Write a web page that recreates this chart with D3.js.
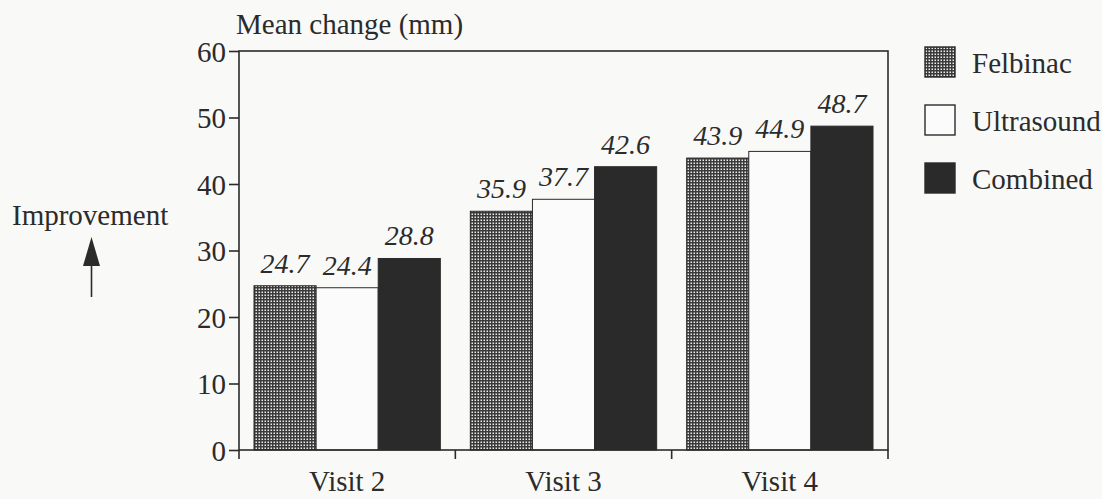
<!DOCTYPE html>
<html>
<head>
<meta charset="utf-8">
<script src="https://cdn.jsdelivr.net/npm/d3@7"></script>
<style>
  body { margin: 0; background: #f9f9f7; }
  svg { display: block; font-family: "Liberation Serif", "DejaVu Serif", serif; }
</style>
</head>
<body>
<svg id="chart"></svg>
<script>
// chart data
const visits = ["Visit 2", "Visit 3", "Visit 4"];
const treatments = ["Felbinac", "Ultrasound", "Combined"];
const felbinac = [24.7, 35.9, 43.9];
const ultrasound = [24.4, 37.7, 44.9];
const combined = [28.8, 42.6, 48.7];
const yTicks = [0, 10, 20, 30, 40, 50, 60];

const seriesValues = [felbinac, ultrasound, combined];

const width = 1102, height = 499;
const m = { left: 239, right: 214, top: 51, bottom: 49 };
const ink = "#2b2b2b";
const fontSize = 29;

const svg = d3.select("#chart")
    .attr("width", width)
    .attr("height", height);

// checker pattern for Felbinac
const defs = svg.append("defs");
const pat = defs.append("pattern")
    .attr("id", "checker")
    .attr("patternUnits", "userSpaceOnUse")
    .attr("width", 3)
    .attr("height", 3);
pat.append("rect").attr("width", 3).attr("height", 3).attr("fill", "#3a3a3a");
pat.append("rect").attr("x", 0.5).attr("y", 0.5).attr("width", 1.5).attr("height", 1.5).attr("fill", "#ececec");

const fills = { "Felbinac": "url(#checker)", "Ultrasound": "#fbfbfb", "Combined": "#2a2a2a" };

// scales
let x0 = d3.scaleBand()
    .domain(visits)
    .range([m.left, width - m.right]);

let x1 = d3.scaleBand()
    .domain(treatments)
    .range([15, x0.bandwidth() - 15]);

let y = d3.scaleLinear()
    .domain([0, 60])
    .range([height - m.bottom, m.top]);

// bars
const rows = [];
visits.forEach((v, i) => {
    treatments.forEach((t, j) => {
        rows.push({ visit: v, treatment: t, value: seriesValues[j][i] });
    });
});

svg.append("g")
    .selectAll("rect")
    .data(rows)
    .enter()
    .append("rect")
    .attr("x", d => x0(d.visit) + x1(d.treatment))
    .attr("y", d => y(d.value))
    .attr("width", x1.bandwidth())
    .attr("height", d => y(0) - y(d.value))
    .attr("fill", d => fills[d.treatment])
    .attr("stroke", ink)
    .attr("stroke-width", 1);

// value labels
svg.append("g")
    .selectAll("text")
    .data(rows)
    .enter()
    .append("text")
    .attr("x", d => x0(d.visit) + x1(d.treatment) + x1.bandwidth() / 2)
    .attr("y", d => y(d.value) - 13)
    .attr("text-anchor", "middle")
    .attr("font-style", "italic")
    .attr("font-size", 28)
    .attr("fill", ink)
    .text(d => d.value.toFixed(1));

// frame
svg.append("rect")
    .attr("x", m.left)
    .attr("y", y(60))
    .attr("width", width - m.left - m.right)
    .attr("height", y(0) - y(60))
    .attr("fill", "none")
    .attr("stroke", ink)
    .attr("stroke-width", 1.6);

// y axis
const yAxis = svg.append("g")
    .attr("transform", `translate(${m.left},0)`)
    .call(d3.axisLeft(y).tickValues(yTicks).tickSize(10).tickPadding(3));
yAxis.select(".domain").remove();
yAxis.selectAll("line").attr("stroke", ink).attr("stroke-width", 1.6);
yAxis.selectAll("text")
    .attr("font-family", "Liberation Serif")
    .attr("font-size", fontSize)
    .attr("fill", ink)
    .attr("dy", "0.36em");

// x axis: ticks on band boundaries, labels at centres
const bounds = visits.map(v => x0(v)).concat([x0.range()[1]]);
svg.append("g")
    .selectAll("line")
    .data(bounds)
    .enter()
    .append("line")
    .attr("x1", d => d)
    .attr("x2", d => d)
    .attr("y1", y(0))
    .attr("y2", y(0) + 9)
    .attr("stroke", ink)
    .attr("stroke-width", 1.6);

svg.append("g")
    .selectAll("text")
    .data(visits)
    .enter()
    .append("text")
    .attr("x", d => x0(d) + x0.bandwidth() / 2)
    .attr("y", y(0) + 41)
    .attr("text-anchor", "middle")
    .attr("font-size", fontSize)
    .attr("fill", ink)
    .text(d => d);

// axis title
svg.append("text")
    .attr("x", 236)
    .attr("y", 34)
    .attr("font-size", fontSize)
    .attr("fill", ink)
    .text("Mean change (mm)");

// improvement note with arrow
svg.append("text")
    .attr("x", 12)
    .attr("y", 225)
    .attr("font-size", fontSize)
    .attr("fill", ink)
    .text("Improvement");

svg.append("line")
    .attr("x1", 91.5).attr("x2", 91.5)
    .attr("y1", 297).attr("y2", 258)
    .attr("stroke", ink)
    .attr("stroke-width", 1.6);
svg.append("path")
    .attr("d", "M91.5,237 L83,266 L100,266 Z")
    .attr("fill", ink);

// legend
const legend = svg.append("g")
    .selectAll("g")
    .data(treatments)
    .enter()
    .append("g")
    .attr("transform", (d, i) => `translate(925, ${[47, 105, 163][i]})`);

legend.append("rect")
    .attr("width", 30)
    .attr("height", 30)
    .attr("fill", d => fills[d])
    .attr("stroke", ink)
    .attr("stroke-width", 1.4);

legend.append("text")
    .attr("x", 47)
    .attr("y", 26)
    .attr("font-size", fontSize)
    .attr("fill", ink)
    .text(d => d);
</script>
</body>
</html>
